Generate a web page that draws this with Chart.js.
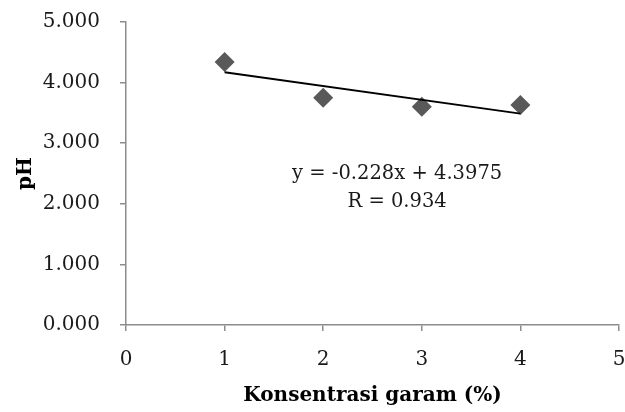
<!DOCTYPE html>
<html>
<head>
<meta charset="utf-8">
<script src="https://cdn.jsdelivr.net/npm/chart.js@4"></script>
<style>
  html, body { margin: 0; padding: 0; background: #fff; overflow: hidden; }
  #wrap { width: 629px; height: 412px; }
</style>
</head>
<body>
<div id="wrap"><canvas id="phChart"></canvas></div>
<script>
// data
const konsentrasi = [1, 2, 3, 4];
const phValues = [4.34, 3.75, 3.60, 3.63];
const eqText = ['y = -0.228x + 4.3975', 'R = 0.934'];

// linear trendline (least squares) from the points
const n = konsentrasi.length;
const mx = konsentrasi.reduce((a, b) => a + b, 0) / n;
const my = phValues.reduce((a, b) => a + b, 0) / n;
let sxy = 0, sxx = 0;
konsentrasi.forEach((x, i) => { sxy += (x - mx) * (phValues[i] - my); sxx += (x - mx) * (x - mx); });
const slope = sxy / sxx;
const intercept = my - slope * mx;
const xFirst = konsentrasi[0], xLast = konsentrasi[n - 1];
const trend = [
  { x: xFirst, y: intercept + slope * xFirst },
  { x: xLast, y: intercept + slope * xLast }
];

const serif = "'DejaVu Serif', 'Liberation Serif', serif";
const axisGray = '#8c8c8c';

// equation text inside the plot
const eqLabel = {
  id: 'eqLabel',
  afterDatasetsDraw(chart) {
    const { ctx, scales } = chart;
    const cx = scales.x.getPixelForValue(2.75);
    ctx.save();
    ctx.font = '19.5px ' + serif;
    ctx.fillStyle = '#1a1a1a';
    ctx.textAlign = 'center';
    ctx.textBaseline = 'middle';
    ctx.fillText(eqText[0], cx, scales.y.getPixelForValue(2.5));
    ctx.fillText(eqText[1], cx, scales.y.getPixelForValue(2.03));
    ctx.restore();
  }
};

new Chart(document.getElementById('phChart'), {
  type: 'scatter',
  data: {
    datasets: [
      {
        label: 'pH',
        data: konsentrasi.map((x, i) => ({ x: x, y: phValues[i] })),
        pointStyle: 'rectRot',
        pointRadius: 10,
        pointHoverRadius: 10,
        backgroundColor: '#595959',
        borderColor: '#595959',
        borderWidth: 0
      },
      {
        label: 'Linear',
        data: trend,
        showLine: true,
        pointRadius: 0,
        borderColor: '#000',
        borderWidth: 2,
        order: -1
      }
    ]
  },
  options: {
    responsive: true,
    maintainAspectRatio: false,
    animation: false,
    layout: { padding: { top: 22, right: 3, bottom: 0, left: 0 } },
    plugins: { legend: { display: false }, tooltip: { enabled: false } },
    scales: {
      x: {
        type: 'linear',
        min: 0,
        max: 5,
        ticks: { stepSize: 1, color: '#1a1a1a', font: { family: serif, size: 20 }, padding: 17 },
        grid: { drawOnChartArea: false, tickLength: 6, color: axisGray, lineWidth: 1.5 },
        border: { color: axisGray, width: 1.5 },
        title: {
          display: true,
          text: 'Konsentrasi garam (%)',
          color: '#000',
          font: { family: serif, size: 20, weight: 'bold' },
          padding: { top: 0, bottom: 4 }
        },
        afterFit(scale) {
          scale.height = 87;
          scale.paddingLeft = 0;
          scale.paddingRight = 0;
        }
      },
      y: {
        min: 0,
        max: 5,
        ticks: {
          stepSize: 1,
          color: '#1a1a1a',
          font: { family: serif, size: 20 },
          padding: 20,
          callback: v => v.toFixed(3)
        },
        grid: { drawOnChartArea: false, tickLength: 6, color: axisGray, lineWidth: 1.5 },
        border: { color: axisGray, width: 1.5 },
        title: {
          display: true,
          text: 'pH',
          color: '#000',
          font: { family: serif, size: 20, weight: 'bold' },
          padding: { top: 14, bottom: 0 }
        },
        afterFit(scale) {
          scale.width = 126;
          scale.paddingTop = 0;
          scale.paddingBottom = 0;
        }
      }
    }
  },
  plugins: [eqLabel]
});
</script>
</body>
</html>
